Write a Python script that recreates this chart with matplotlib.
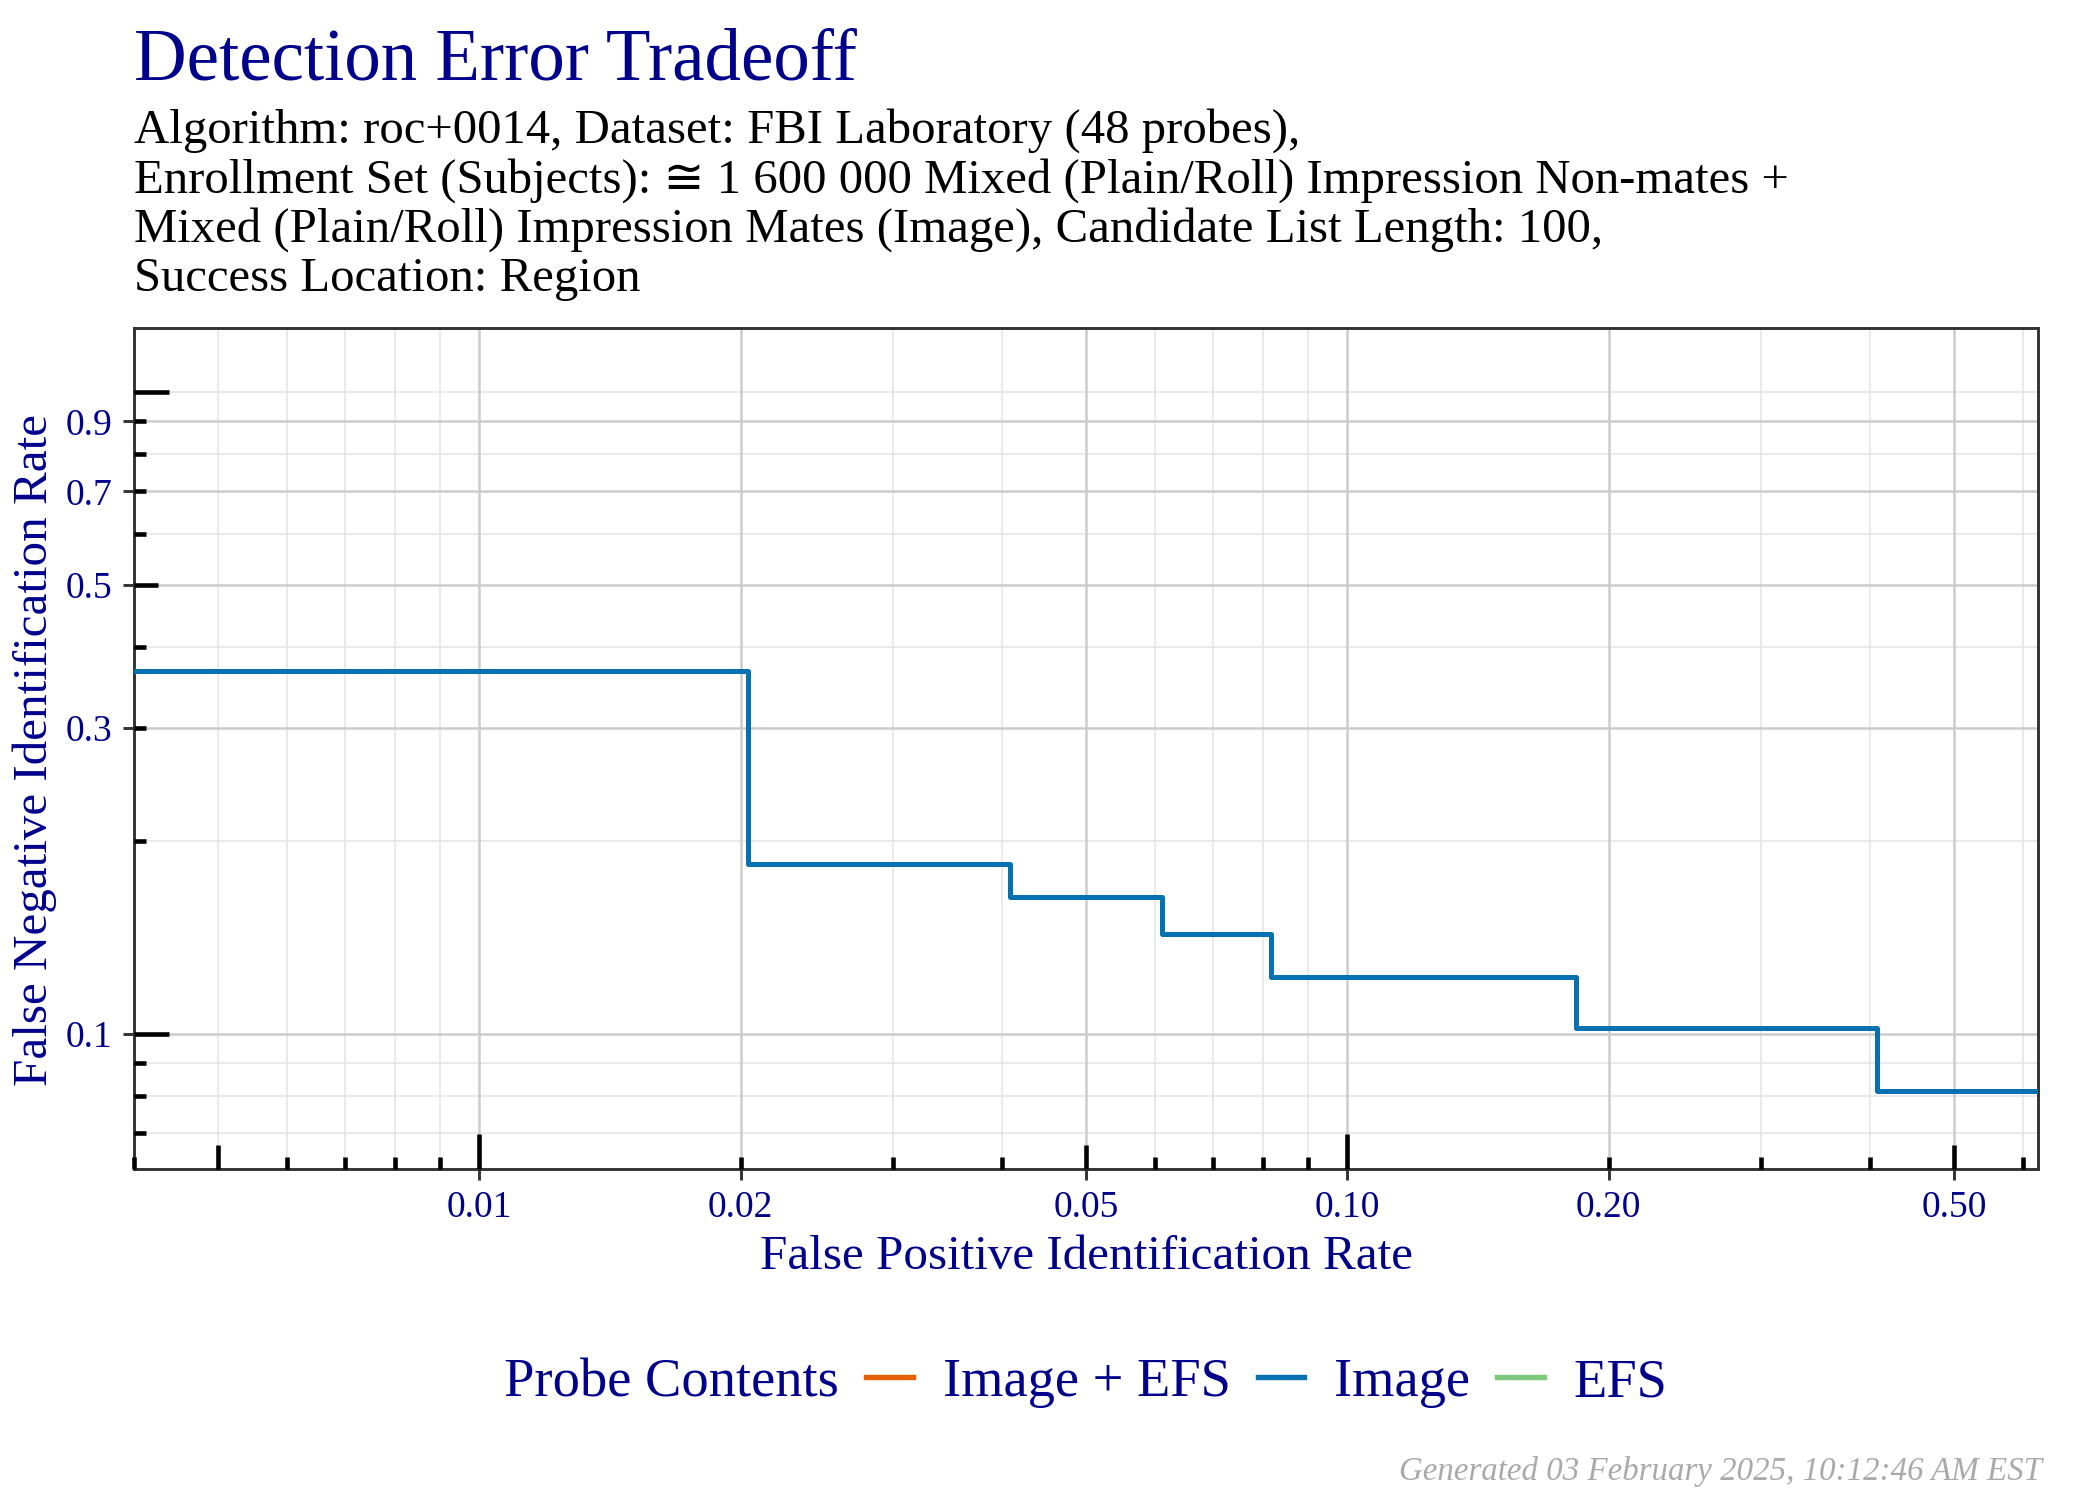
import numpy as np
import matplotlib
matplotlib.use("Agg")
import matplotlib.pyplot as plt
from matplotlib.lines import Line2D
from matplotlib.offsetbox import HPacker
from matplotlib.transforms import blended_transform_factory

plt.rcParams['font.family'] = ['Liberation Serif', 'DejaVu Serif', 'DejaVu Sans']

# data: 49 searches, step curve (FPIR, FNIR)
fpir = [0.001, 1/49, 2/49, 3/49, 4/49, 9/49, 20/49, 1.0]
fnir = [18/49, 9/49, 8/49, 7/49, 6/49, 5/49, 4/49, 4/49]

series_names = ["Image + EFS", "Image", "EFS"]
series_colors = ["#E66101", "#0571B0", "#7FC97F"]

x_breaks = [0.01, 0.02, 0.05, 0.10, 0.20, 0.50]
x_labels = ["0.01", "0.02", "0.05", "0.10", "0.20", "0.50"]
y_breaks = [0.1, 0.3, 0.5, 0.7, 0.9]
y_labels = ["0.1", "0.3", "0.5", "0.7", "0.9"]

xlim = (0.004, 0.625)
ylim = (0.0616, 1.258)

subtitle_lines = [
    "Algorithm: roc+0014, Dataset: FBI Laboratory (48 probes),",
    "Enrollment Set (Subjects): \u2245 1 600 000 Mixed (Plain/Roll) Impression Non-mates +",
    "Mixed (Plain/Roll) Impression Mates (Image), Candidate List Length: 100,",
    "Success Location: Region",
]

navy = "#00008B"
W, H = 2100, 1500
L, R, T, B = 134, 2038, 328, 1169
fig = plt.figure(figsize=(7, 5), dpi=300)
ax = fig.add_axes([L/W, 1 - B/H, (R - L)/W, (B - T)/H])
ax.set_xscale("log")
ax.set_yscale("log")
ax.set_xlim(*xlim)
ax.set_ylim(*ylim)

# grid: minor at every 1..9 x 10^k, major at labelled breaks
logpos = [m * 10.0**k for k in range(-4, 1) for m in range(1, 10)]
for v in logpos:
    if xlim[0] < v < xlim[1] and not any(np.isclose(v, b) for b in x_breaks):
        ax.axvline(v, color="#e6e6e6", lw=0.4, zorder=0)
    if ylim[0] < v < ylim[1] and not any(np.isclose(v, b) for b in y_breaks):
        ax.axhline(v, color="#e6e6e6", lw=0.4, zorder=0)
for b in x_breaks:
    ax.axvline(b, color="#cccccc", lw=0.6, zorder=0.5)
for b in y_breaks:
    ax.axhline(b, color="#cccccc", lw=0.6, zorder=0.5)

ax.step(fpir, fnir, where="post", color=series_colors[1], lw=1.2, zorder=3)

ax.set_xticks(x_breaks)
ax.set_xticklabels(x_labels)
ax.set_yticks(y_breaks)
ax.set_yticklabels(y_labels)
ax.minorticks_off()
ax.tick_params(axis="both", direction="out", length=2.6, width=0.7,
               color="#333333", labelcolor=navy, labelsize=9, pad=2.5)
for s in ax.spines.values():
    s.set_color("#333333")
    s.set_linewidth(0.7)

# log ticks inside (bottom and left), long/mid/short like annotation_logticks
ax_w = R - L
ax_h = B - T
def tick_len(v):
    m = round(v / 10.0**np.floor(np.log10(v) + 1e-9))
    return 35 if m == 1 else (24 if m == 5 else 12)

tx = blended_transform_factory(ax.transData, ax.transAxes)
ty = blended_transform_factory(ax.transAxes, ax.transData)
for v in logpos:
    if xlim[0] <= v <= xlim[1]:
        ax.plot([v, v], [0, tick_len(v)/ax_h], transform=tx, color="black",
                lw=1.1, solid_capstyle="butt", clip_on=False, zorder=4)
    if ylim[0] <= v <= ylim[1]:
        ax.plot([0, tick_len(v)/ax_w], [v, v], transform=ty, color="black",
                lw=1.1, solid_capstyle="butt", clip_on=False, zorder=4)

fig.text((L + R)/2/W, 1 - 1269/H, "False Positive Identification Rate",
         color=navy, fontsize=11.8, ha="center", va="baseline")
fig.text(47/W, 1 - 750/H, "False Negative Identification Rate",
         color=navy, fontsize=11.8, ha="center", va="baseline",
         rotation=90, rotation_mode="anchor")

fig.text(L/W, 1 - 80/H, "Detection Error Tradeoff", color=navy, fontsize=17.5,
         ha="left", va="baseline")
for i, line in enumerate(subtitle_lines):
    fig.text(L/W, 1 - (143 + 49.3*i)/H, line, color="black", fontsize=11.7,
             ha="left", va="baseline")

handles = [Line2D([], [], color=c, lw=1.3) for c in series_colors]
leg = fig.legend(handles, series_names, loc="center",
                 bbox_to_anchor=((L + R)/2/W, 1 - 1383/H), ncol=3,
                 frameon=False, fontsize=13.1, labelcolor=navy,
                 title="Probe Contents", title_fontsize=13.1,
                 handlelength=0.85, handletextpad=0.55, columnspacing=0.5)
leg.get_title().set_color(navy)
box = HPacker(children=[leg._legend_title_box, leg._legend_handle_box],
              pad=0, sep=6.5, align="center")
box.set_figure(fig)
box.set_offset(leg._findoffset)
leg._legend_box = box

fig.text(2042/W, 1 - 1480/H, "Generated 03 February 2025, 10:12:46 AM EST",
         color="#aaaaaa", fontsize=7.9, style="italic", ha="right", va="baseline")

fig.savefig("out.png", dpi=300)
